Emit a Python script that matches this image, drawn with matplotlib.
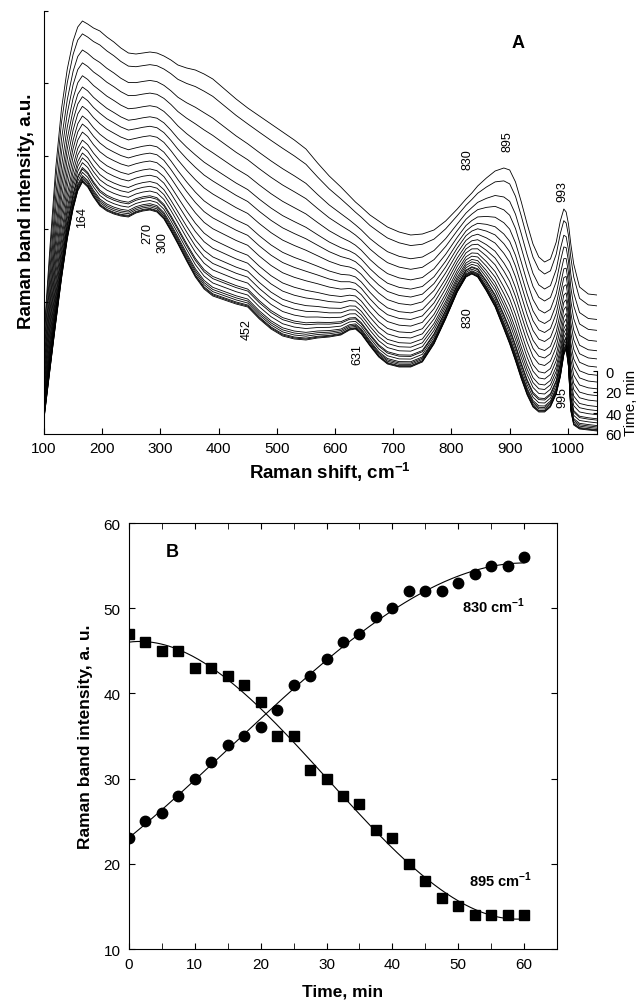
import numpy as np
import matplotlib
matplotlib.use('Agg')
import matplotlib.pyplot as plt
from matplotlib.ticker import MultipleLocator

plt.rcParams['font.family'] = ['Liberation Sans', 'DejaVu Sans']
plt.rcParams['mathtext.fontset'] = 'custom'
plt.rcParams['mathtext.rm'] = 'Liberation Sans'
plt.rcParams['mathtext.bf'] = 'Liberation Sans:bold'

# --- panel A: spectra (start and end of the run)
wavenumber = [100, 110, 120, 130, 140, 150, 158, 166, 175, 185, 196, 208, 220, 232, 245,
              258, 270, 282, 294, 306, 318, 330, 345, 360, 375, 390, 410, 430, 450, 470,
              490, 510, 530, 550, 570, 590, 610, 625, 635, 645, 660, 675, 690, 710, 730,
              750, 770, 790, 810, 825, 835, 845, 860, 875, 890, 900, 910, 920, 930, 940,
              950, 960, 970, 980, 987, 993, 997, 1001, 1005, 1010, 1020, 1035, 1050]

spec_0min = [100, 185, 265, 325, 365, 393, 407, 413, 410, 406, 403, 397, 392, 386, 381,
             380, 381, 382, 381, 378, 374, 369, 366, 364, 360, 355, 345, 335, 326, 318,
             310, 302, 294, 285, 271, 258, 247, 238, 232, 227, 219, 213, 207, 202, 199,
             200, 204, 213, 225, 235, 241, 248, 256, 263, 266, 264, 252, 232, 210, 190,
             177, 172, 175, 192, 213, 225, 222, 210, 190, 170, 147, 140, 139]

spec_60min = [15, 63, 110, 155, 195, 225, 243, 252, 247, 237, 228, 223, 220, 218, 217,
              221, 223, 224, 222, 215, 203, 190, 173, 157, 145, 138, 134, 130, 127, 115,
              105, 98, 95, 94, 96, 97, 99, 104, 105, 100, 88, 77, 70, 67, 67,
              72, 90, 115, 142, 157, 160, 157, 143, 127, 105, 90, 73, 55, 39, 27,
              22, 22, 27, 40, 57, 79, 85, 67, 23, 9, 5, 4, 3]

# how far each recorded spectrum has moved from the 0 min one to the 60 min one
progress = [0.0, 0.08, 0.18, 0.26, 0.34, 0.41, 0.47, 0.53, 0.59, 0.64, 0.69, 0.74, 0.78,
            0.82, 0.85, 0.88, 0.91, 0.92, 0.94, 0.96, 0.97, 0.98, 0.99, 0.995, 1.0]

band_labels = ['164', '270', '300', '452', '631', '830', '830', '895', '993', '995']
band_x = [165, 277, 304, 449, 638, 827, 827, 897, 991, 991]
band_y = [218, 202, 192, 105, 80, 117, 275, 293, 243, 37]

# --- panel B: band intensities vs time
time_min = [0, 2.5, 5, 7.5, 10, 12.5, 15, 17.5, 20, 22.5, 25, 27.5, 30, 32.5, 35,
            37.5, 40, 42.5, 45, 47.5, 50, 52.5, 55, 57.5, 60]
band_830 = [23, 25, 26, 28, 30, 32, 34, 35, 36, 38, 41, 42, 44, 46, 47,
            49, 50, 52, 52, 52, 53, 54, 55, 55, 56]
band_895 = [47, 46, 45, 45, 43, 43, 42, 41, 39, 35, 35, 31, 30, 28, 27,
            24, 23, 20, 18, 16, 15, 14, 14, 14, 14]

fig = plt.figure(figsize=(6.39, 10.03), dpi=100)

# ---------------- panel A
ax = fig.add_axes([44 / 639, 1 - 435 / 1003, 553 / 639, 423 / 1003])
top = np.array(spec_0min, dtype=float)
bot = np.array(spec_60min, dtype=float)
for p in progress:
    ax.plot(wavenumber, top + p * (bot - top), color='black', lw=0.6)

ax.set_xlim(100, 1050)
ax.set_ylim(0, 423)
ax.spines['top'].set_visible(False)
ax.spines['right'].set_visible(False)
ax.set_xticks(range(100, 1001, 100))
ax.set_yticks([132, 205, 278, 351, 423])
ax.tick_params(axis='x', direction='in', length=4, labelsize=11, pad=5)
ax.tick_params(axis='y', direction='in', length=3, labelleft=False)

for lab, x, y in zip(band_labels, band_x, band_y):
    ax.text(x, y, lab, rotation=90, ha='center', va='center', fontsize=9)
ax.text(914, 392, 'A', fontsize=13, fontweight='bold', ha='center', va='center')

fig.text(27 / 639, 1 - 211 / 1003, 'Raman band intensity, a.u.', rotation=90,
         ha='center', va='center', fontsize=13.5, fontweight='bold')
fig.text(330 / 639, 1 - 472 / 1003, r'Raman shift, cm$^{\mathbf{-1}}$',
         ha='center', va='center', fontsize=13.5, fontweight='bold')

# small time scale at the right end of the spectra
axt = fig.add_axes([597 / 639, 1 - 435 / 1003, 0.0001, 63 / 1003])
axt.set_ylim(60, 0)
axt.set_yticks([0, 20, 40, 60])
axt.set_xticks([])
for s in ['top', 'right', 'bottom']:
    axt.spines[s].set_visible(False)
axt.tick_params(axis='y', left=True, right=False, labelleft=False, labelright=True,
                direction='out', length=3, pad=3, labelsize=10.5)
axt.patch.set_visible(False)
fig.text(631 / 639, 1 - 403 / 1003, 'Time, min', rotation=90, ha='center', va='center',
         fontsize=11)

# ---------------- panel B
bx = fig.add_axes([129 / 639, 1 - 950 / 1003, 428 / 639, 426 / 1003])
t = np.array(time_min)
tt = np.linspace(0, 60, 200)
fit_830 = np.polyval(np.polyfit(t, band_830, 3), tt)
fit_895 = np.polyval(np.polyfit(t, band_895, 3), tt)
bx.plot(tt, fit_830, color='black', lw=0.8)
bx.plot(tt, fit_895, color='black', lw=0.8)
bx.plot(time_min, band_830, 'o', color='black', ms=7.5)
bx.plot(time_min, band_895, 's', color='black', ms=6.5)

bx.set_xlim(0, 65)
bx.set_ylim(10, 60)
bx.set_xticks(range(0, 61, 10))
bx.xaxis.set_minor_locator(MultipleLocator(5))
bx.set_yticks(range(10, 61, 10))
bx.tick_params(which='both', direction='in', top=True, right=True, labelsize=11)
bx.tick_params(which='major', length=4, pad=6)
bx.tick_params(which='minor', length=4)
bx.set_xlabel('Time, min', fontsize=12.5, fontweight='bold', labelpad=9)
bx.set_ylabel('Raman band intensity, a. u.', fontsize=12.5, fontweight='bold', labelpad=8)

bx.text(6.5, 56.6, 'B', fontsize=13, fontweight='bold', ha='center', va='center')
bx.text(50.6, 50.3, r'830 cm$^{\mathbf{-1}}$', fontsize=10.5, fontweight='bold', va='center')
bx.text(51.7, 18.2, r'895 cm$^{\mathbf{-1}}$', fontsize=10.5, fontweight='bold', va='center')

fig.savefig('out.png', dpi=100)
